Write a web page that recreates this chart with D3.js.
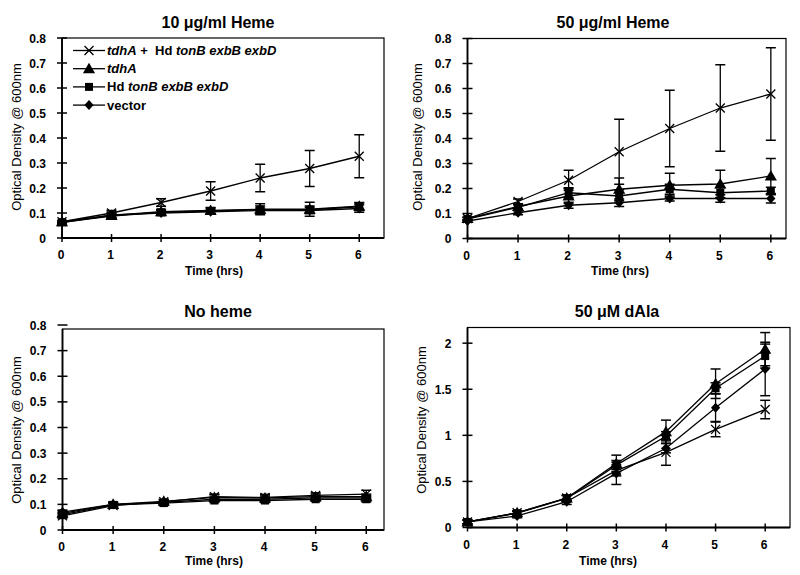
<!DOCTYPE html>
<html>
<head>
<meta charset="utf-8">
<script src="https://cdn.jsdelivr.net/npm/d3@7"></script>
<style>
  html, body { margin: 0; padding: 0; background: #fff; }
  svg { display: block; font-family: "Liberation Sans", Arial, Helvetica, sans-serif; }
</style>
</head>
<body>
<svg id="chart" width="800" height="575"></svg>
<script>
// ---------------- DATA ----------------
const times = [0, 1, 2, 3, 4, 5, 6];
const xTickLabels = ["0", "1", "2", "3", "4", "5", "6"];
const seriesKeys = ["tdhA_hd", "tdhA", "hd", "vector"];
const seriesMarkers = ["times", "triangle", "square", "diamond"];
const panelTitles = ["10 μg/ml Heme", "50 μg/ml Heme", "No heme", "50 μM dAla"];
const yTicksLow = [0, 0.1, 0.2, 0.3, 0.4, 0.5, 0.6, 0.7, 0.8];
const yTickLabelsLow = ["0", "0.1", "0.2", "0.3", "0.4", "0.5", "0.6", "0.7", "0.8"];
const yTicksHigh = [0, 0.5, 1, 1.5, 2];
const yTickLabelsHigh = ["0", "0.5", "1", "1.5", "2"];

// Panel 1: 10 ug/ml Heme
const heme10_tdhA_hd = [0.065, 0.100, 0.142, 0.188, 0.240, 0.278, 0.327];
const heme10_tdhA_hd_err = [0.005, 0.010, 0.015, 0.037, 0.055, 0.072, 0.086];
const heme10_tdhA = [0.065, 0.090, 0.105, 0.110, 0.115, 0.115, 0.127];
const heme10_tdhA_err = [0.005, 0.010, 0.010, 0.012, 0.022, 0.028, 0.015];
const heme10_hd = [0.063, 0.088, 0.103, 0.108, 0.113, 0.113, 0.125];
const heme10_hd_err = [0.005, 0.008, 0.010, 0.012, 0.015, 0.015, 0.015];
const heme10_vector = [0.062, 0.092, 0.100, 0.105, 0.110, 0.110, 0.118];
const heme10_vector_err = [0.005, 0.012, 0.010, 0.010, 0.010, 0.012, 0.015];

// Panel 2: 50 ug/ml Heme
const heme50_tdhA_hd = [0.080, 0.148, 0.233, 0.347, 0.440, 0.522, 0.578];
const heme50_tdhA_hd_err = [0.005, 0.010, 0.040, 0.130, 0.153, 0.173, 0.185];
const heme50_tdhA = [0.080, 0.128, 0.170, 0.197, 0.213, 0.218, 0.250];
const heme50_tdhA_err = [0.005, 0.010, 0.030, 0.045, 0.048, 0.055, 0.070];
const heme50_hd = [0.078, 0.125, 0.183, 0.170, 0.197, 0.183, 0.190];
const heme50_hd_err = [0.005, 0.012, 0.020, 0.025, 0.020, 0.020, 0.015];
const heme50_vector = [0.070, 0.103, 0.133, 0.143, 0.160, 0.160, 0.160];
const heme50_vector_err = [0.005, 0.008, 0.012, 0.015, 0.010, 0.015, 0.018];

// Panel 3: No heme
const noheme_tdhA_hd = [0.055, 0.095, 0.110, 0.130, 0.127, 0.135, 0.140];
const noheme_tdhA_hd_err = [0.010, 0.010, 0.008, 0.010, 0.012, 0.010, 0.015];
const noheme_tdhA = [0.065, 0.100, 0.112, 0.127, 0.125, 0.130, 0.130];
const noheme_tdhA_err = [0.010, 0.008, 0.008, 0.010, 0.008, 0.010, 0.010];
const noheme_hd = [0.060, 0.098, 0.105, 0.115, 0.115, 0.120, 0.120];
const noheme_hd_err = [0.008, 0.008, 0.008, 0.008, 0.008, 0.008, 0.010];
const noheme_vector = [0.070, 0.100, 0.108, 0.120, 0.120, 0.125, 0.125];
const noheme_vector_err = [0.008, 0.008, 0.008, 0.008, 0.008, 0.008, 0.010];

// Panel 4: 50 uM dAla
const dala_tdhA_hd = [0.060, 0.160, 0.320, 0.620, 0.815, 1.065, 1.280];
const dala_tdhA_hd_err = [0.020, 0.020, 0.030, 0.060, 0.140, 0.080, 0.100];
const dala_tdhA = [0.060, 0.160, 0.320, 0.695, 1.040, 1.560, 1.935];
const dala_tdhA_err = [0.020, 0.020, 0.030, 0.090, 0.125, 0.160, 0.180];
const dala_hd = [0.060, 0.155, 0.315, 0.677, 0.990, 1.510, 1.860];
const dala_hd_err = [0.020, 0.020, 0.030, 0.050, 0.050, 0.060, 0.130];
const dala_vector = [0.060, 0.125, 0.280, 0.587, 0.860, 1.300, 1.720];
const dala_vector_err = [0.020, 0.020, 0.030, 0.120, 0.050, 0.150, 0.290];

// ---------------- LAYOUT ----------------
const panels = [
  { title: panelTitles[0], x: [62, 384], xMax: 6.5, y: [238, 38], frameTop: 38, yMax: 0.8,
    ticks: yTicksLow, tickLabels: yTickLabelsLow, titleX: 218, titleY: 28, labX: 21, labY: 137, timeX: 214, timeY: 275,
    series: [[heme10_tdhA_hd, heme10_tdhA_hd_err], [heme10_tdhA, heme10_tdhA_err], [heme10_hd, heme10_hd_err], [heme10_vector, heme10_vector_err]], legend: true },
  { title: panelTitles[1], x: [467.5, 786], xMax: 6.3, y: [238.5, 38.5], frameTop: 38.5, yMax: 0.8,
    ticks: yTicksLow, tickLabels: yTickLabelsLow, titleX: 613, titleY: 28, labX: 422, labY: 137, timeX: 620, timeY: 275,
    series: [[heme50_tdhA_hd, heme50_tdhA_hd_err], [heme50_tdhA, heme50_tdhA_err], [heme50_hd, heme50_hd_err], [heme50_vector, heme50_vector_err]] },
  { title: panelTitles[2], x: [62.5, 384], xMax: 6.35, y: [530, 325], frameTop: 329, yMax: 0.8,
    ticks: yTicksLow, tickLabels: yTickLabelsLow, titleX: 218, titleY: 317, labX: 21, labY: 430, timeX: 214, timeY: 565,
    series: [[noheme_tdhA_hd, noheme_tdhA_hd_err], [noheme_tdhA, noheme_tdhA_err], [noheme_hd, noheme_hd_err], [noheme_vector, noheme_vector_err]] },
  { title: panelTitles[3], x: [467.5, 790], xMax: 6.5, y: [527.5, 327.5], frameTop: 327.5, yMax: 2.17,
    ticks: yTicksHigh, tickLabels: yTickLabelsHigh, titleX: 617, titleY: 317, labX: 426, labY: 420, timeX: 608, timeY: 565,
    series: [[dala_tdhA_hd, dala_tdhA_hd_err], [dala_tdhA, dala_tdhA_err], [dala_hd, dala_hd_err], [dala_vector, dala_vector_err]] }
];

const svg = d3.select("#chart");

function drawMarker(g, type, cx, cy) {
  if (type === "times") {
    const s = 4.5;
    g.append("path")
      .attr("d", `M${cx - s},${cy - s}L${cx + s},${cy + s}M${cx - s},${cy + s}L${cx + s},${cy - s}`)
      .attr("stroke", "#000").attr("stroke-width", 1.3).attr("fill", "none");
  } else if (type === "triangle") {
    g.append("path").attr("d", d3.symbol().type(d3.symbolTriangle).size(64)())
      .attr("transform", `translate(${cx},${cy + 1})`).attr("fill", "#000");
  } else if (type === "square") {
    g.append("path").attr("d", d3.symbol().type(d3.symbolSquare).size(64)())
      .attr("transform", `translate(${cx},${cy})`).attr("fill", "#000");
  } else {
    g.append("path").attr("d", "M0,-5L4.6,0L0,5L-4.6,0Z")
      .attr("transform", `translate(${cx},${cy})`).attr("fill", "#000");
  }
}

panels.forEach((p, pi) => {
  const xs = d3.scaleLinear().domain([0, p.xMax]).range(p.x);
  const ys = d3.scaleLinear().domain([0, p.yMax]).range(p.y);
  const g = svg.append("g");

  // frame
  g.append("rect")
    .attr("x", p.x[0]).attr("y", p.frameTop)
    .attr("width", p.x[1] - p.x[0]).attr("height", p.y[0] - p.frameTop)
    .attr("fill", "none").attr("stroke", "#000").attr("stroke-width", 1.2);
  // thicker axes
  g.append("line").attr("x1", p.x[0]).attr("x2", p.x[0]).attr("y1", p.y[0]).attr("y2", p.frameTop)
    .attr("stroke", "#000").attr("stroke-width", 1.8);
  g.append("line").attr("x1", p.x[0]).attr("x2", p.x[1]).attr("y1", p.y[0]).attr("y2", p.y[0])
    .attr("stroke", "#000").attr("stroke-width", 1.8);

  // y ticks (crossing)
  p.ticks.forEach((t, i) => {
    const yy = ys(t);
    g.append("line").attr("x1", p.x[0] - 5).attr("x2", p.x[0] + 5).attr("y1", yy).attr("y2", yy)
      .attr("stroke", "#000").attr("stroke-width", 1.5);
    g.append("text").attr("x", p.x[0] - 16).attr("y", yy + 4.5)
      .attr("text-anchor", "end").attr("font-size", 12).attr("font-weight", "bold")
      .text(p.tickLabels[i]);
  });
  // x ticks (crossing)
  times.forEach((t, i) => {
    const xx = xs(t);
    g.append("line").attr("x1", xx).attr("x2", xx).attr("y1", p.y[0] - 4).attr("y2", p.y[0] + 4)
      .attr("stroke", "#000").attr("stroke-width", 1.5);
    g.append("text").attr("x", xx - 1).attr("y", p.y[0] + 21)
      .attr("text-anchor", "middle").attr("font-size", 12).attr("font-weight", "bold")
      .text(xTickLabels[i]);
  });

  // titles
  g.append("text").attr("x", p.titleX).attr("y", p.titleY).attr("text-anchor", "middle")
    .attr("font-size", 16).attr("font-weight", "bold").text(p.title);
  g.append("text").attr("x", p.timeX).attr("y", p.timeY).attr("text-anchor", "middle")
    .attr("font-size", 12).attr("font-weight", "bold").text("Time (hrs)");
  g.append("text").attr("transform", `translate(${p.labX},${p.labY}) rotate(-90)`)
    .attr("text-anchor", "middle").attr("font-size", 13).text("Optical Density @ 600nm");

  const line = d3.line().x((d, i) => xs(times[i])).y(d => ys(d));

  // lines + error bars
  p.series.forEach(([vals, errs], si) => {
    g.append("path").attr("d", line(vals)).attr("fill", "none")
      .attr("stroke", "#000").attr("stroke-width", 1.3);
    vals.forEach((v, i) => {
      const xx = xs(times[i]);
      const y1 = ys(v - errs[i]), y2 = ys(v + errs[i]);
      g.append("line").attr("x1", xx).attr("x2", xx).attr("y1", y1).attr("y2", y2)
        .attr("stroke", "#000").attr("stroke-width", 1.3);
      [y1, y2].forEach(yy => {
        g.append("line").attr("x1", xx - 5).attr("x2", xx + 5).attr("y1", yy).attr("y2", yy)
          .attr("stroke", "#000").attr("stroke-width", 1.5);
      });
    });
  });
  // markers
  p.series.forEach(([vals], si) => {
    vals.forEach((v, i) => drawMarker(g, seriesMarkers[si], xs(times[i]), ys(v)));
  });

  // legend
  if (p.legend) {
    const rows = [
      [["tdhA", true], [" + ", false], [" Hd ", false], ["tonB exbB exbD", true]],
      [["tdhA", true]],
      [["Hd ", false], ["tonB exbB exbD", true]],
      [["vector", false]]
    ];
    rows.forEach((parts, ri) => {
      const ly = 50.5 + ri * 18.2;
      g.append("line").attr("x1", 73).attr("x2", 105).attr("y1", ly).attr("y2", ly)
        .attr("stroke", "#000").attr("stroke-width", 1.3);
      drawMarker(g, seriesMarkers[ri], 89, ly);
      const t = g.append("text").attr("x", 107).attr("y", ly + 4.5)
        .attr("font-size", 13).attr("font-weight", "bold");
      parts.forEach(([txt, it]) => {
        t.append("tspan").attr("font-style", it ? "italic" : "normal")
          .attr("xml:space", "preserve").style("white-space", "pre").text(txt);
      });
    });
  }
});
</script>
</body>
</html>
